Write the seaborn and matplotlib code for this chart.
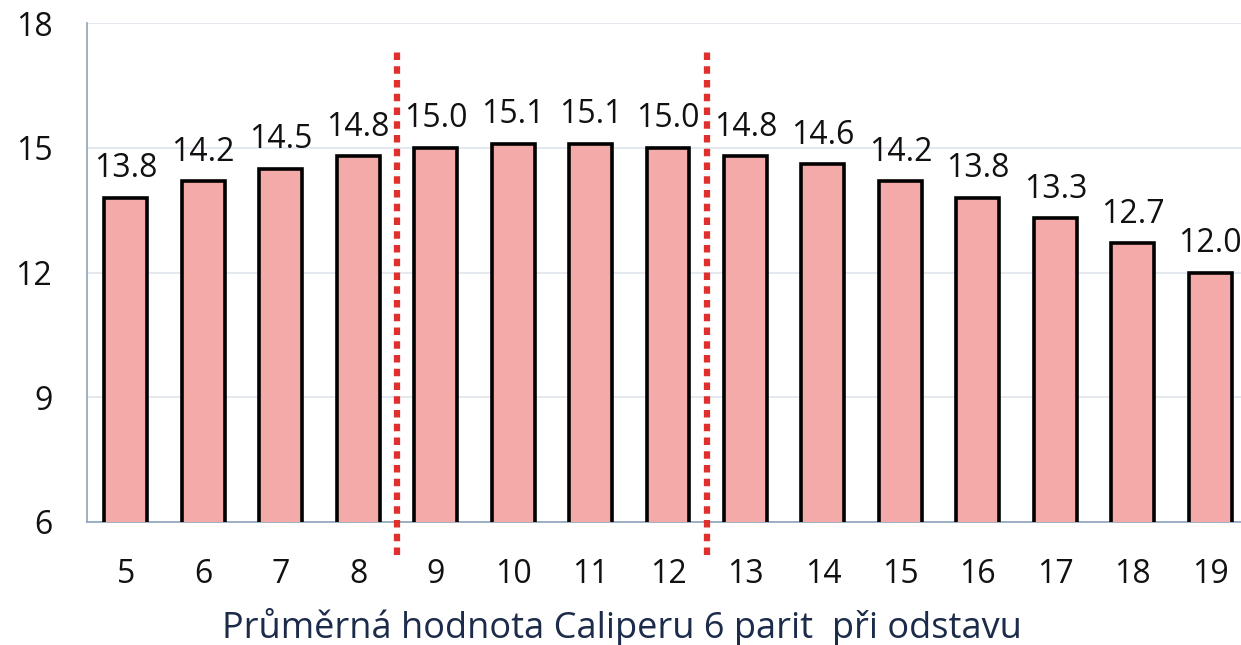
import matplotlib
matplotlib.use("Agg")
import matplotlib.pyplot as plt
import seaborn as sns
import pandas as pd

# Data
days = ["5", "6", "7", "8", "9", "10", "11", "12", "13", "14", "15", "16", "17", "18", "19"]
caliper = [13.8, 14.2, 14.5, 14.8, 15.0, 15.1, 15.1, 15.0, 14.8, 14.6, 14.2, 13.8, 13.3, 12.7, 12.0]
y_ticks = [6, 9, 12, 15, 18]
split_after = ["8", "12"]  # dotted separators after these days
xlabel = "Průměrná hodnota Caliperu 6 parit  při odstavu"

sns.set_style("white")
plt.rcParams['font.family'] = ['Open Sans', 'DejaVu Sans']

df = pd.DataFrame({"day": days, "value": caliper})

W, H = 1241, 645
fig = plt.figure(figsize=(W / 100, H / 100), dpi=100)
# axes runs a little past the right edge, as in the cropped original
ax = fig.add_axes([87 / W, (H - 522) / H, (1249 - 87) / W, 499 / H])

sns.barplot(data=df, x="day", y="value", order=days, color="#f4aaa8",
            saturation=1, width=0.555, edgecolor="black", linewidth=2.6, ax=ax, zorder=3)

ax.set_ylim(6, 18)
ax.set_xlim(-0.5, 14.5)
ax.set_yticks(y_ticks)
ax.yaxis.grid(True, color="#dfe5ec", linewidth=1.2, zorder=0)
ax.set_axisbelow(True)

for side in ["top", "right"]:
    ax.spines[side].set_visible(False)
for side in ["left", "bottom"]:
    ax.spines[side].set_color("#8ea3bb")
    ax.spines[side].set_linewidth(1.2)

ax.tick_params(axis="both", length=0, labelsize=23, colors="#111111")
ax.tick_params(axis="y", pad=25)
ax.tick_params(axis="x", pad=26)
ax.set_ylabel("")
ax.set_xlabel(xlabel, fontsize=26, color="#1c2b4a", labelpad=12)
# label is centred on the visible picture, not on the (cropped) axes
ax.xaxis.label.set_x((622 - 87) / (1249 - 87))

# value labels
for i, v in enumerate(caliper):
    ax.text(i, v + 0.3, f"{v:.1f}", ha="center", va="bottom", fontsize=23, color="#111111")

# dotted separators
for d in split_after:
    xpos = days.index(d) + 0.5
    ax.plot([xpos, xpos], [5.2, 17.3], color="#e0302e", linewidth=4.5,
            linestyle=(0, (1.2, 1.0)), solid_capstyle="butt", dash_capstyle="butt",
            clip_on=False, zorder=4)

fig.savefig("out.png", dpi=100)
